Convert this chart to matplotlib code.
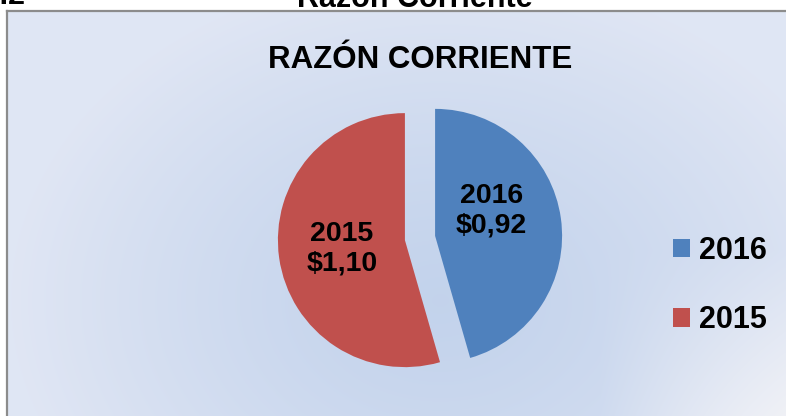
import numpy as np
import matplotlib
matplotlib.use("Agg")
import matplotlib.pyplot as plt

plt.rcParams['font.family'] = ['Liberation Sans', 'DejaVu Sans']

# datos
anios = ['2016', '2015']
razon = [0.92, 1.10]
etiquetas = ['2016\n$0,92', '2015\n$1,10']
colores = ['#4f81bd', '#c0504d']

W, H = 786, 416
fig = plt.figure(figsize=(W / 100, H / 100), dpi=100)
fig.patch.set_facecolor('white')

# fondo del area del grafico con degradado
x0, y0 = 7, 11
bg = fig.add_axes([x0 / W, 0, 1 - x0 / W, 1 - y0 / H])
xx, yy = np.meshgrid(np.arange(x0, W), np.arange(y0, H))
d = np.sqrt(((xx - 440) / 430.0) ** 2 + ((yy - 300) / 330.0) ** 2)
d = np.clip(d, 0, 1)
claro = np.array([0.878, 0.902, 0.957])
oscuro = np.array([0.765, 0.827, 0.925])
img = oscuro + (claro - oscuro) * d[..., None] ** 1.3
e = np.clip((xx - 600) / 186.0, 0, 1) * np.clip((yy - 250) / 166.0, 0, 1)
img = img + (np.array([0.94, 0.945, 0.965]) - img) * e[..., None]
bg.imshow(np.clip(img, 0, 1), aspect='auto', extent=(0, 1, 0, 1), origin='upper')
bg.set_xticks([])
bg.set_yticks([])
for s in ['right', 'bottom']:
    bg.spines[s].set_visible(False)
for s in ['left', 'top']:
    bg.spines[s].set_color('#8c8c8c')
    bg.spines[s].set_linewidth(1.6)

# pastel
R = 127.0
cx, cy = 420, 238
ax = fig.add_axes([0, 0, 1, 1])
wedges, texts = ax.pie(razon, labels=etiquetas, colors=colores, explode=(0.12, 0.12),
                       startangle=90, counterclock=False, labeldistance=0.5,
                       wedgeprops=dict(linewidth=0),
                       textprops=dict(fontsize=20.5, fontweight='bold', color='black'))
for t in texts:
    t.set_ha('center')
    t.set_va('center')
    t.set_multialignment('center')
    t.set_linespacing(1.15)
# ajuste tipo "mejor ajuste" de Excel para la etiqueta de 2016
x, y = texts[0].get_position()
texts[0].set_position((x - 0.05, y + 0.13))

ax.set_aspect('auto')
ax.set_xlim(-cx / R, (W - cx) / R)
ax.set_ylim(-(H - cy) / R, cy / R)
ax.axis('off')

fig.text(420 / W, 1 - 60 / H, 'RAZÓN CORRIENTE', ha='center', va='center',
         fontsize=22.5, fontweight='bold')

# textos cortados del documento original
fig.text(415 / W, 1 - 7 / H, 'Razón Corriente', ha='center', va='baseline',
         fontsize=22, fontweight='bold')
fig.text(25 / W, 1 - 4 / H, 'Gráfico 1.2', ha='right', va='baseline',
         fontsize=22, fontweight='bold')

fig.legend(wedges, anios, loc='center left', bbox_to_anchor=(673 / W, 1 - 285.5 / H),
           frameon=False, borderpad=0, borderaxespad=0,
           handlelength=0.55, handleheight=0.55, handletextpad=0.3,
           labelspacing=1.3, prop=dict(size=22, weight='bold'))

fig.savefig('out.png', dpi=100)
